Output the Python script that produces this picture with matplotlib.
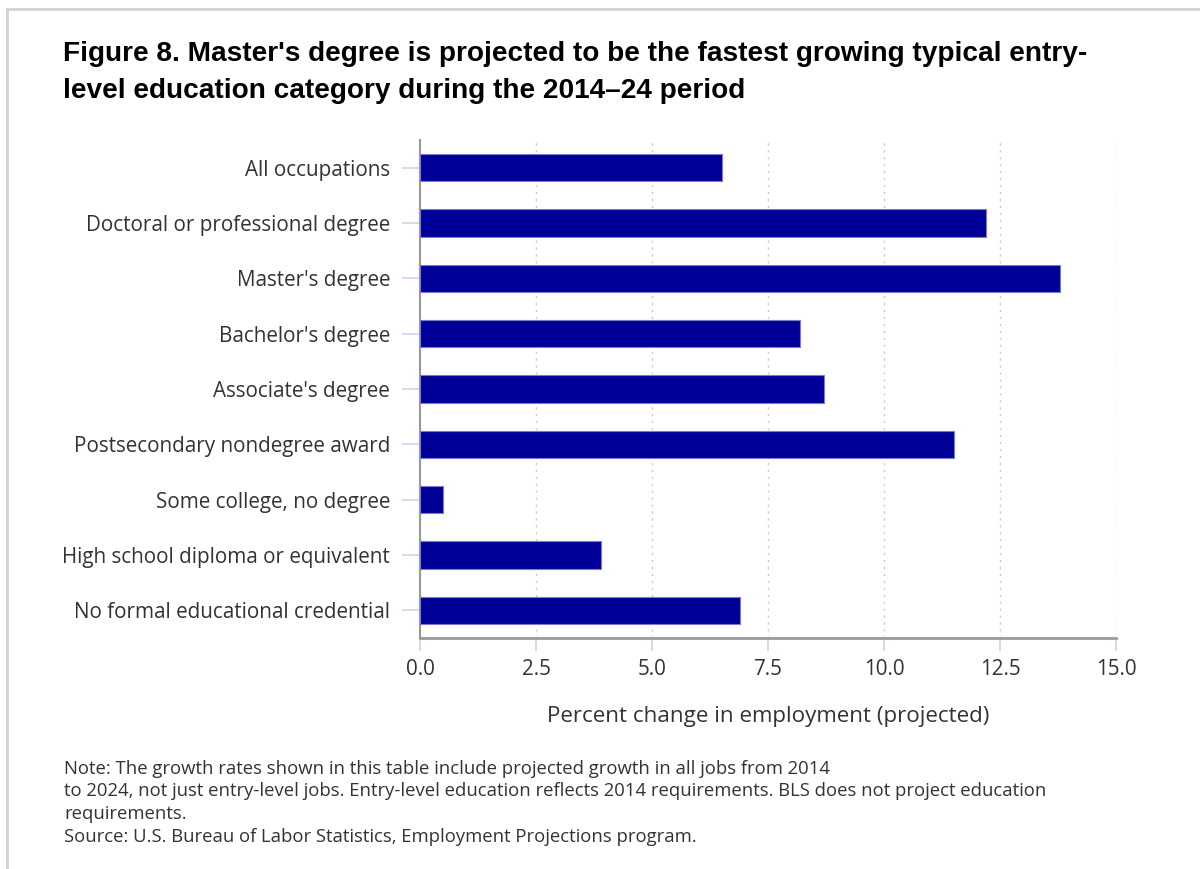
import matplotlib
matplotlib.use("Agg")
import matplotlib.pyplot as plt
from matplotlib.lines import Line2D

categories = [
    "All occupations",
    "Doctoral or professional degree",
    "Master's degree",
    "Bachelor's degree",
    "Associate's degree",
    "Postsecondary nondegree award",
    "Some college, no degree",
    "High school diploma or equivalent",
    "No formal educational credential",
]
values = [6.5, 12.2, 13.8, 8.2, 8.7, 11.5, 0.5, 3.9, 6.9]
xticks = [0, 2.5, 5.0, 7.5, 10.0, 12.5, 15.0]
xtick_labels = ["0.0", "2.5", "5.0", "7.5", "10.0", "12.5", "15.0"]

title = ("Figure 8. Master's degree is projected to be the fastest growing typical entry-\n"
         "level education category during the 2014\u201324 period")
xlabel = "Percent change in employment (projected)"
note_lines = [
    "Note: The growth rates shown in this table include projected growth in all jobs from 2014",
    "to 2024, not just entry-level jobs. Entry-level education reflects 2014 requirements. BLS does not project education",
    "requirements.",
    "Source: U.S. Bureau of Labor Statistics, Employment Projections program.",
]

W, H = 1200, 869
fig = plt.figure(figsize=(W / 100, H / 100), dpi=100)
fig.patch.set_facecolor("white")

# outer frame lines (top and left)
fig.add_artist(Line2D([7 / W, 1], [1 - 9 / H, 1 - 9 / H], color="#d3d3d3", lw=2))
fig.add_artist(Line2D([7 / W, 7 / W], [0, 1 - 9 / H], color="#d3d3d3", lw=2))

ax = fig.add_axes([420 / W, 1 - 638 / H, (1116 - 420) / W, (638 - 140) / H])
y = list(range(len(categories)))
ax.barh(y, values, height=0.49, color="#000099", edgecolor="#7a7ad0", linewidth=0.8, zorder=3)
ax.set_ylim(len(categories) - 0.5, -0.5)
ax.set_xlim(0, 15)

ax.set_yticks(y)
ax.set_yticklabels(categories, fontsize=14.9, family="Open Sans", color="#333333")
ax.set_xticks(xticks)
ax.set_xticklabels(xtick_labels, fontsize=14.9, family="Open Sans", color="#333333")
ax.tick_params(axis="y", length=13, width=1.2, color="#ccd6eb", pad=8.5)
ax.tick_params(axis="x", length=9, width=1.2, color="#ccd6eb", pad=6)

ax.grid(axis="x", linestyle=(0, (1.5, 3.5)), color="#c8c8c8", linewidth=1, zorder=0)
ax.grid(axis="y", visible=False)
for s in ["top", "right"]:
    ax.spines[s].set_visible(False)
ax.spines["left"].set_color("#999999")
ax.spines["left"].set_linewidth(1.5)
ax.spines["bottom"].set_color("#9a9a9a")
ax.spines["bottom"].set_linewidth(2)

ax.set_xlabel(xlabel, fontsize=16.1, family="Open Sans", color="#333333", labelpad=19)

fig.text(63 / W, 1 - 41 / H, title, ha="left", va="top", fontsize=20.2,
         family="Liberation Sans", fontweight="bold", color="#000000", linespacing=1.55)

for i, line in enumerate(note_lines):
    fig.text(64 / W, 1 - (768.5 + i * 22.8) / H, line, ha="left", va="center",
             fontsize=13.3, family="Open Sans", color="#333333")

fig.savefig("out.png", dpi=100)
